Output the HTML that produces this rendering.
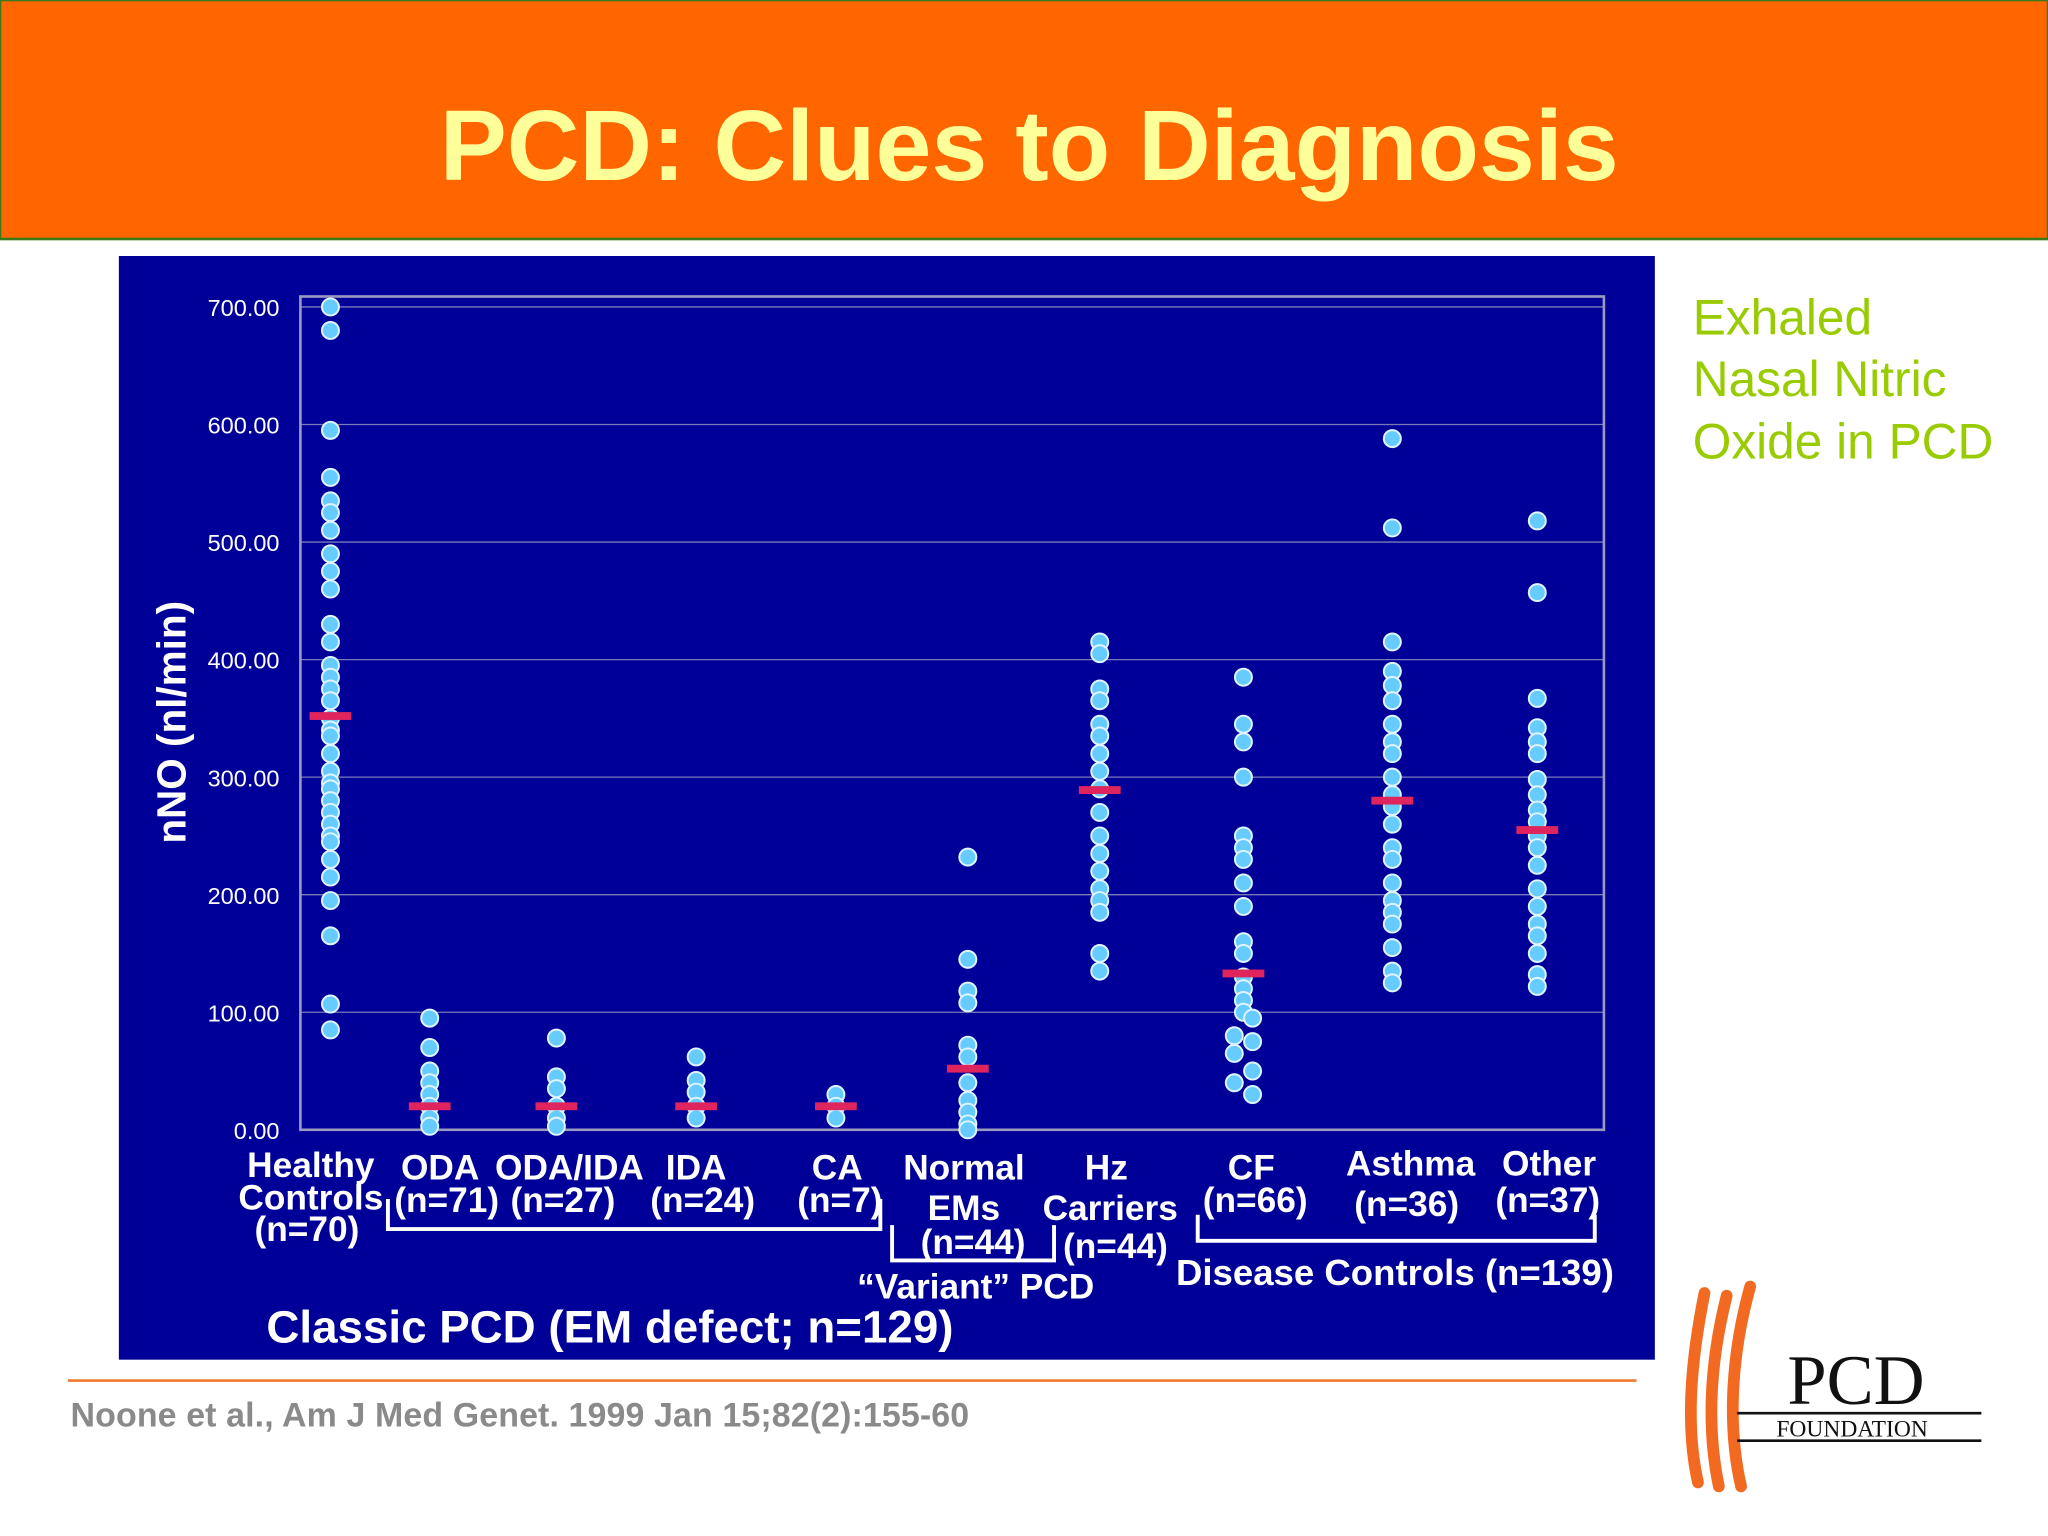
<!DOCTYPE html>
<html><head><meta charset="utf-8"><style>
html,body{margin:0;padding:0;background:#fff}
svg{display:block}
text{font-family:"Liberation Sans",sans-serif}
</style></head><body>
<svg width="2048" height="1536" viewBox="0 0 1568 1176" xmlns="http://www.w3.org/2000/svg">
<rect x="0" y="0" width="1568" height="183" fill="#FF6600" stroke="#3a7a1a" stroke-width="2"/>
<text x="788" y="138" text-anchor="middle" font-size="77" font-weight="bold" fill="#FFFF99">PCD: Clues to Diagnosis</text>
<rect x="91" y="196" width="1176" height="845" fill="#000099"/>
<g id="grid"></g>
<rect x="230" y="227" width="998" height="638" fill="none" stroke="#9a9ac0" stroke-width="2"/>
<g id="yticks"></g>
<text transform="translate(142,553) rotate(-90)" text-anchor="middle" font-size="31" font-weight="bold" fill="#fff">nNO (nl/min)</text>
<g id="dots"></g>
<g id="medians"></g>
<g font-size="27" font-weight="bold" fill="#fff" text-anchor="middle">
<text x="238" y="901">Healthy</text>
<text x="238" y="926">Controls</text>
<text x="235" y="950">(n=70)</text>
<text x="337" y="903">ODA</text>
<text x="342" y="928">(n=71)</text>
<text x="436" y="903">ODA/IDA</text>
<text x="431" y="928">(n=27)</text>
<text x="533" y="903">IDA</text>
<text x="538" y="928">(n=24)</text>
<text x="641" y="903">CA</text>
<text x="643" y="928">(n=7)</text>
<text x="738" y="903">Normal</text>
<text x="738" y="934">EMs</text>
<text x="745" y="960">(n=44)</text>
<text x="847" y="903">Hz</text>
<text x="850" y="934">Carriers</text>
<text x="854" y="963">(n=44)</text>
<text x="958" y="903">CF</text>
<text x="961" y="928">(n=66)</text>
<text x="1080" y="900">Asthma</text>
<text x="1077" y="931">(n=36)</text>
<text x="1186" y="900">Other</text>
<text x="1185" y="928">(n=37)</text>
<text x="747" y="994">“Variant” PCD</text>
<text x="1068" y="984" font-size="28">Disease Controls (n=139)</text>
<text x="467" y="1028" font-size="35">Classic PCD (EM defect; n=129)</text>
</g>
<g fill="none" stroke="#fff" stroke-width="3">
<path d="M297 918 V941 H674 V918"/>
<path d="M683 938 V965 H807 V938"/>
<path d="M917 930 V950 H1221 V930"/>
</g>
<g font-size="38" fill="#99CC00">
<text x="1296" y="256">Exhaled</text>
<text x="1296" y="303">Nasal Nitric</text>
<text x="1296" y="351">Oxide in PCD</text>
</g>
<line x1="52" y1="1057" x2="1253" y2="1057" stroke="#F07830" stroke-width="2"/>
<text x="54" y="1092" font-size="26" font-weight="bold" fill="#8a8a8a" textLength="688">Noone et al., Am J Med Genet. 1999 Jan 15;82(2):155-60</text>
<g>
<path d="M1305 990 C1295 1040 1290 1090 1300 1135" stroke="#F26A21" stroke-width="9" fill="none" stroke-linecap="round"/>
<path d="M1322 992 C1310 1040 1306 1090 1316 1138" stroke="#F26A21" stroke-width="9" fill="none" stroke-linecap="round"/>
<path d="M1340 985 C1326 1035 1322 1090 1333 1138" stroke="#F26A21" stroke-width="9" fill="none" stroke-linecap="round"/>
<text x="1421" y="1075" text-anchor="middle" font-size="54" fill="#111" style="font-family:'Liberation Serif',serif">PCD</text>
<line x1="1330" y1="1082" x2="1517" y2="1082" stroke="#111" stroke-width="2"/>
<line x1="1330" y1="1103" x2="1517" y2="1103" stroke="#111" stroke-width="2"/>
<text x="1418" y="1100" text-anchor="middle" font-size="18" fill="#111" style="font-family:'Liberation Serif',serif">FOUNDATION</text>
</g>
</svg>
<script>
const yTicks=[0,100,200,300,400,500,600,700];
const catX=[253,329,426,533,640,741,842,952,1066,1177];
const catNames=['healthy','oda','odaida','ida','ca','normal-ems','hz-carriers','cf','asthma','other'];
const medians=[352,20,20,20,20,52,289,133,280,255];
const sHealthy=[700,680,595,555,535,525,510,490,475,460,430,415,395,385,375,365,350,340,335,320,305,295,290,280,270,260,250,245,230,215,195,165,107,85];
const sOda=[95,70,50,40,30,20,10,3];
const sOdaIda=[78,45,35,20,10,3];
const sIda=[62,42,32,20,10];
const sCa=[30,20,10];
const sNormal=[232,145,118,108,72,62,40,25,15,5,0];
const sHz=[415,405,375,365,345,335,320,305,290,270,250,235,220,205,195,185,150,135];
const sCf=[385,345,330,300,250,240,230,210,190,160,150,130,120,110,100,95,80,75,65,50,40,30];
const sAsthma=[588,512,415,390,378,365,345,330,320,300,285,275,260,240,230,210,195,185,175,155,135,125];
const sOther=[518,457,367,342,330,320,298,285,272,262,250,240,225,205,190,175,165,150,132,122];
const series=[sHealthy,sOda,sOdaIda,sIda,sCa,sNormal,sHz,sCf,sAsthma,sOther];
const NS='http://www.w3.org/2000/svg';
function y(v){return 865-v*0.9;}
const grid=document.getElementById('grid'),yt=document.getElementById('yticks');
yTicks.forEach(t=>{
 const l=document.createElementNS(NS,'line');
 l.setAttribute('x1',230);l.setAttribute('x2',1228);l.setAttribute('y1',y(t));l.setAttribute('y2',y(t));
 l.setAttribute('stroke','#7a7ab8');l.setAttribute('stroke-width','1');
 
 
 grid.appendChild(l);
 const tx=document.createElementNS(NS,'text');
 tx.setAttribute('x',214);tx.setAttribute('y',y(t)+7);tx.setAttribute('text-anchor','end');
 tx.setAttribute('font-size','18');tx.setAttribute('fill','#fff');
 tx.textContent=t.toFixed(2);
 
 
 yt.appendChild(tx);
});
const dots=document.getElementById('dots'),med=document.getElementById('medians');
series.forEach((s,i)=>{
 s.forEach((v,j)=>{
  const c=document.createElementNS(NS,'circle');
  let cx=catX[i];
  if(i===7&&v<100) cx+= (j%2?7:-7);
  c.setAttribute('cx',cx);c.setAttribute('cy',y(v));c.setAttribute('r',6.5);
  c.setAttribute('fill','#66CCFF');c.setAttribute('stroke','#dff4ff');c.setAttribute('stroke-width','1.5');
  
  
  dots.appendChild(c);
 });
 const m=document.createElementNS(NS,'rect');
 m.setAttribute('x',catX[i]-16);m.setAttribute('y',y(medians[i])-3);m.setAttribute('width',32);m.setAttribute('height',6);
 m.setAttribute('fill','#E0245E');
 
 
 med.appendChild(m);
});
</script>
</body></html>
